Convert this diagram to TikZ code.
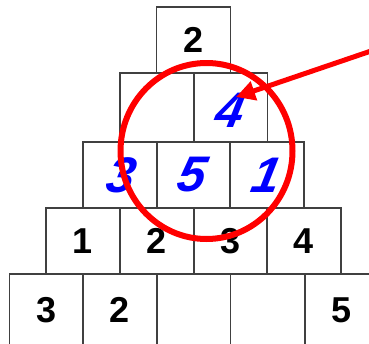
\documentclass[tikz,border=0pt]{standalone}
\usepackage{fontspec}
\setmainfont{Liberation Sans}
\usetikzlibrary{arrows.meta}
\definecolor{boxline}{HTML}{404040}
\definecolor{pureblue}{HTML}{0000FF}
\definecolor{purered}{HTML}{FF0000}
\begin{document}
\begin{tikzpicture}[x=1pt,y=-1pt,
  cell/.style={draw=boxline,line width=1.8pt,minimum width=74pt,minimum height=#1,inner sep=0pt,
    font=\fontsize{36}{40}\selectfont\bfseries},
  cell/.default=67pt,
  found/.style={text=pureblue,font=\fontsize{50}{54}\selectfont\bfseries\itshape},
  slanted/.style={inner sep=0pt,xslant=0.2,transform shape},
  ring/.style={draw=purered,line width=6pt},
  pointer/.style={draw=purered,line width=5pt,-{Triangle[length=19pt,width=19pt]}}]
\useasboundingbox (0,0) rectangle (369,343);
\clip (0,0) rectangle (369,343);
% row 1
\node[cell=66pt] (r1a) at (193.5,40) {2};
% row 2
\node[cell=69pt] (r2a) at (157,107.5) {};
\node[cell=69pt] (r2b) at (230.5,107.5) {};
% row 3
\node[cell=66pt] (r3a) at (120,175) {};
\node[cell=66pt] (r3b) at (193.5,175) {};
\node[cell=66pt] (r3c) at (267,175) {};
% row 4
\node[cell=66pt] (r4a) at (83,241) {1};
\node[cell=66pt] (r4b) at (157,241) {2};
\node[cell=66pt] (r4c) at (230.5,241) {3};
\node[cell=66pt] (r4d) at (304,241) {4};
% row 5
\node[cell=72pt] (r5a) at (46.5,310) {3};
\node[cell=72pt] (r5b) at (120,310) {2};
\node[cell=72pt] (r5c) at (193.5,310) {};
\node[cell=72pt] (r5d) at (267.5,310) {};
\node[cell=72pt] (r5e) at (342,310) {5};
% blue answers
\node[found,slanted] (n4) at (231,110) {4};
\node[found,slanted] (n3) at (122,175) {3};
\node[found,slanted] (n5) at (193,175) {5};
\node[found,slanted] (n1) at (267,175) {1};
% ring and pointer
\draw[ring] (206.5,151) ellipse [x radius=86, y radius=88];
\coordinate (tail) at (374,50);
\coordinate (tip) at (236,97);
\draw[pointer] (tail) -- (tip);
\end{tikzpicture}
\end{document}
